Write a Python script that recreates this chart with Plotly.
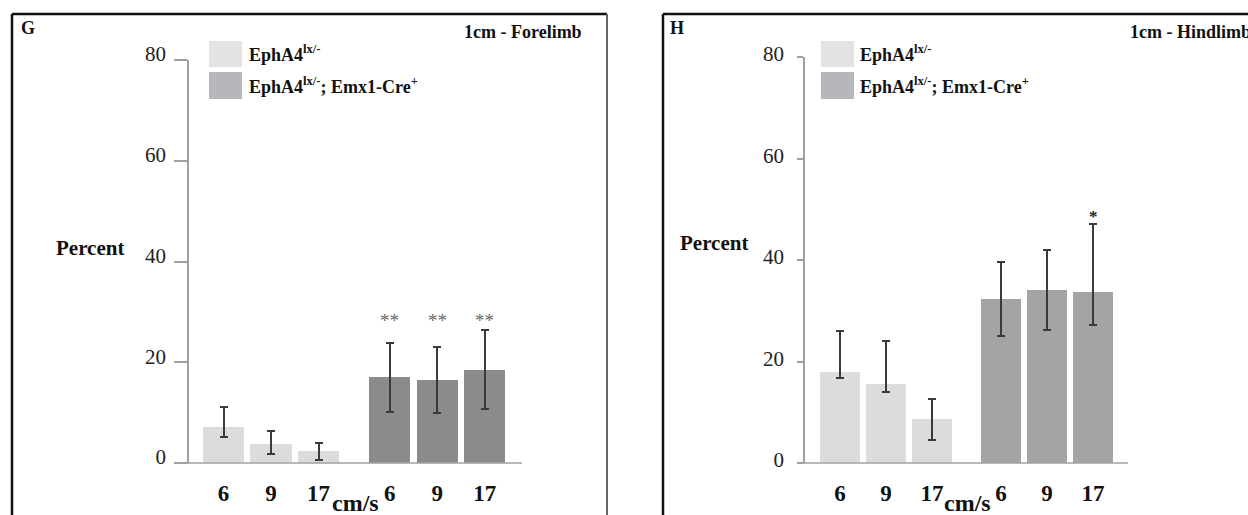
import plotly.graph_objects as go

W, H = 1248, 515

# ---------------- data ----------------
speeds = ["6", "9", "17", "6", "9", "17"]
positions = [0, 1, 2, 3.5, 4.5, 5.5]
groups = ["EphA4<sup>lx/-</sup>", "EphA4<sup>lx/-</sup>; Emx1-Cre<sup>+</sup>"]

fore_ctrl = [7.2, 3.8, 2.3]
fore_ctrl_hi = [11.05, 6.35, 4.0]
fore_ctrl_lo = [5.2, 1.8, 0.65]
fore_mut = [17.1, 16.5, 18.45]
fore_mut_hi = [23.9, 23.1, 26.4]
fore_mut_lo = [10.2, 10.0, 10.65]
fore_sig = ["**", "**", "**"]

hind_ctrl = [18.0, 15.6, 8.6]
hind_ctrl_hi = [26.1, 24.1, 12.6]
hind_ctrl_lo = [16.8, 13.9, 4.5]
hind_mut = [32.4, 34.1, 33.7]
hind_mut_hi = [39.7, 42.0, 47.0]
hind_mut_lo = [25.1, 26.3, 27.2]
hind_sig = ["", "", "*"]

y_ticks = [0, 20, 40, 60, 80]

# ---------------- styles ----------------
FONT = "Liberation Serif"
C_LIGHT = "#dcdcdc"
C_DARK_L = "#8b8b8d"
C_DARK_R = "#a4a4a5"
C_LEG1 = "#e3e3e3"
C_LEG2 = "#b5b7ba"
C_ERR = "#3a3a3a"
C_AXIS = "#a0a0a0"
C_TXT = "#111111"


def px(x):
    return x / W


def py(y):
    return 1 - y / H


fig = go.Figure()


def add_bars(xa, ya, vals, hi, lo, pos, color):
    fig.add_trace(go.Bar(
        x=pos, y=vals, width=0.865, marker_color=color, marker_line_width=0,
        xaxis=xa, yaxis=ya, showlegend=False,
        error_y=dict(type="data", symmetric=False,
                     array=[h - v for h, v in zip(hi, vals)],
                     arrayminus=[v - l for v, l in zip(vals, lo)],
                     color=C_ERR, thickness=2, width=4),
    ))


add_bars("x", "y", fore_ctrl, fore_ctrl_hi, fore_ctrl_lo, positions[:3], C_LIGHT)
add_bars("x", "y", fore_mut, fore_mut_hi, fore_mut_lo, positions[3:], C_DARK_L)
add_bars("x2", "y2", hind_ctrl, hind_ctrl_hi, hind_ctrl_lo, positions[:3], C_LIGHT)
add_bars("x2", "y2", hind_mut, hind_mut_hi, hind_mut_lo, positions[3:], C_DARK_R)

# panel geometry (pixels)
L = dict(c0=223.5, step=47.5, yx=189, xend=522, xstart=184, y0=463, y80=60)
R = dict(c0=840.0, step=46.0, yx=805, xend=1128, xstart=800, y0=463, y80=57)


def xaxis_cfg(g):
    return dict(
        domain=[px(g["yx"]), px(g["xend"])],
        range=[(g["yx"] - g["c0"]) / g["step"], (g["xend"] - g["c0"]) / g["step"]],
        tickvals=positions, ticktext=speeds, showline=False, showgrid=False,
        zeroline=False, ticks="", ticklabelstandoff=14, automargin=False,
        tickfont=dict(family=FONT, size=23, color=C_TXT, weight="bold"),
        fixedrange=True,
    )


def yaxis_cfg(g, ticklen, standoff, shift):
    return dict(
        domain=[py(g["y0"]), py(g["y80"])], range=[0, 80],
        tickvals=y_ticks, showline=True, linecolor=C_AXIS, linewidth=1.5,
        ticks="outside", ticklen=ticklen, tickcolor=C_AXIS, tickwidth=1.5,
        showgrid=False, zeroline=False, ticklabelstandoff=standoff,
        ticklabelshift=shift, automargin=False,
        tickfont=dict(family=FONT, size=21, color="#222"),
        fixedrange=True,
    )


xl = xaxis_cfg(L)
xr = xaxis_cfg(R)
xr["anchor"] = "y2"
yl = yaxis_cfg(L, 13, 4, -6)
yr = yaxis_cfg(R, 6, 9, -3)
yr["anchor"] = "x2"

shapes = []
annotations = []

# frames
for x0, x1, rightcol in [(12, 607, "#666"), (663, 1262, "#666")]:
    shapes.append(dict(type="line", xref="paper", yref="paper", x0=px(x0), x1=px(x0),
                       y0=py(14), y1=py(530), line=dict(color="#111", width=2.5)))
    shapes.append(dict(type="line", xref="paper", yref="paper", x0=px(x0), x1=px(x1),
                       y0=py(14), y1=py(14), line=dict(color="#111", width=2.5)))
    shapes.append(dict(type="line", xref="paper", yref="paper", x0=px(x1), x1=px(x1),
                       y0=py(14), y1=py(530), line=dict(color=rightcol, width=2)))

# baselines
for g in (L, R):
    shapes.append(dict(type="line", xref="paper", yref="paper", x0=px(g["xstart"]),
                       x1=px(g["xend"]), y0=py(g["y0"]), y1=py(g["y0"]),
                       line=dict(color=C_AXIS, width=1.5)))

# legends
for bx, tx in [(209, 247), (821, 858)]:
    for (yt, yb), col, label in [((41, 67), C_LEG1, groups[0]), ((72, 99), C_LEG2, groups[1])]:
        shapes.append(dict(type="rect", xref="paper", yref="paper", x0=px(bx), x1=px(bx + 33),
                           y0=py(yb), y1=py(yt), fillcolor=col, line=dict(width=0)))
        annotations.append(dict(xref="paper", yref="paper", x=px(tx), y=py((yt + yb) / 2),
                                xanchor="left", yanchor="middle", showarrow=False,
                                text="<b>" + label + "</b>",
                                font=dict(family=FONT, size=18, color=C_TXT)))


def lab(x, y, text, size, xanchor="center", color=C_TXT):
    return dict(xref="paper", yref="paper", x=px(x), y=py(y), xanchor=xanchor,
                yanchor="middle", text="<b>" + text + "</b>", showarrow=False,
                font=dict(family=FONT, size=size, color=color))


annotations += [
    lab(19, 28, "G", 18, "left"),
    lab(668, 28, "H", 18, "left"),
    lab(584, 32, "1cm - Forelimb", 18, "right"),
    lab(1128, 32, "1cm - Hindlimb", 18, "left"),
    lab(90, 248, "Percent", 21),
    lab(714, 243, "Percent", 21),
    lab(355, 503, "cm/s", 24),
    lab(967, 503, "cm/s", 24),
]

# significance marks
for p, s in zip(positions[3:], fore_sig):
    if s:
        annotations.append(dict(xref="x", yref="y", x=p, y=28.2, text=s, showarrow=False,
                                yanchor="middle", font=dict(family=FONT, size=19, color="#666")))
for p, s in zip(positions[3:], hind_sig):
    if s:
        annotations.append(dict(xref="x2", yref="y2", x=p, y=48.6, text="<b>" + s + "</b>",
                                showarrow=False, yanchor="middle",
                                font=dict(family=FONT, size=17, color="#222")))

fig.update_layout(
    width=W, height=H, margin=dict(l=0, r=0, t=0, b=0, pad=0, autoexpand=False),
    paper_bgcolor="white", plot_bgcolor="white",
    xaxis=xl, yaxis=yl, xaxis2=xr, yaxis2=yr,
    shapes=shapes, annotations=annotations, bargap=0, showlegend=False,
)

fig.write_html("out.html")
